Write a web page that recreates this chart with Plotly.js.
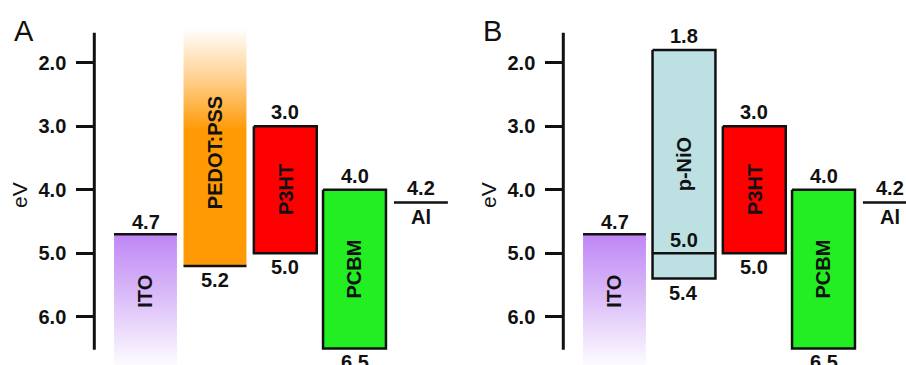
<!DOCTYPE html>
<html>
<head>
<meta charset="utf-8">
<script src="https://cdn.plot.ly/plotly-3.0.1.min.js"></script>
<style>html,body{margin:0;padding:0;background:#fff;}#chart{width:906px;height:365px;}</style>
</head>
<body>
<div id="chart"></div>
<script>
// ---- data (energy levels in eV) ----
const materialsA = ['ITO', 'PEDOT:PSS', 'P3HT', 'PCBM', 'Al'];
const upperA = [4.7, null, 3.0, 4.0, 4.2];   // work function / LUMO
const lowerA = [null, 5.2, 5.0, 6.5, null];  // work function / HOMO
const materialsB = ['ITO', 'p-NiO', 'P3HT', 'PCBM', 'Al'];
const upperB = [4.7, 1.8, 3.0, 4.0, 4.2];
const lowerB = [null, 5.4, 5.0, 6.5, null];
const innerB = [null, 5.0, null, null, null]; // p-NiO intermediate level
const yTicks = [2.0, 3.0, 4.0, 5.0, 6.0];
const yTickLabels = ['2.0', '3.0', '4.0', '5.0', '6.0'];

// ---- layout / style constants ----
const FONT = 'Liberation Sans, Arial, sans-serif';
const INK = '#111111';
const FS = 20;
const YR = [6.761, 1.0126];         // reversed energy axis
const colPos = [0, 0.994, 2.0, 2.99, 3.94];
const halfW = 0.45, alHalfW = 0.386;
const styleA = [
  {kind: 'fadeDown', color: '#bf86f6', label: 'ITO', labelY: 5.6},
  {kind: 'fadeUp', color: '#ff9a05', label: 'PEDOT:PSS', labelY: 3.41},
  {kind: 'box', color: '#ff0000', label: 'P3HT'},
  {kind: 'box', color: '#22ee22', label: 'PCBM'},
  {kind: 'line', label: 'Al'}
];
const styleB = [
  {kind: 'fadeDown', color: '#bf86f6', label: 'ITO', labelY: 5.6},
  {kind: 'box', color: '#bde0e3', label: 'p-NiO'},
  {kind: 'box', color: '#ff0000', label: 'P3HT'},
  {kind: 'box', color: '#22ee22', label: 'PCBM'},
  {kind: 'line', label: 'Al'}
];

const traces = [];
const annotations = [];
const shapes = [];

function valText(v) { return v.toFixed(1); }

function ann(xa, ya, x, y, text, opts) {
  annotations.push(Object.assign({
    xref: xa, yref: ya, x: x, y: y, text: text, showarrow: false,
    font: {family: FONT, size: FS, color: INK, weight: 'bold'}
  }, opts || {}));
}

function hline(xa, ya, x0, x1, y) {
  traces.push({type: 'scatter', mode: 'lines', xaxis: xa, yaxis: ya,
    x: [x0, x1], y: [y, y], line: {color: INK, width: 2.5}, hoverinfo: 'skip'});
}

function panel(xa, ya, materials, upper, lower, inner, styles) {
  materials.forEach((m, i) => {
    const s = styles[i];
    const c = colPos[i];
    const l = c - halfW, r = c + halfW;
    const up = upper[i], lo = lower[i];
    if (s.kind === 'fadeDown') {
      traces.push({type: 'scatter', mode: 'lines', xaxis: xa, yaxis: ya,
        x: [l, r, r, l, l], y: [up, up, YR[0], YR[0], up], fill: 'toself',
        line: {width: 0}, hoverinfo: 'skip',
        fillgradient: {type: 'vertical', start: up, stop: YR[0],
          colorscale: [[0, s.color], [0.45, '#d9b9f8'], [1, '#fdfbff']]}});
      hline(xa, ya, l, r, up);
      ann(xa, ya, c, up, valText(up), {yanchor: 'bottom', yshift: -1});
      ann(xa, ya, c, s.labelY, s.label, {textangle: -90});
    } else if (s.kind === 'fadeUp') {
      const topV = 1.45;
      traces.push({type: 'scatter', mode: 'lines', xaxis: xa, yaxis: ya,
        x: [l, r, r, l, l], y: [lo, lo, topV, topV, lo], fill: 'toself',
        line: {width: 0}, hoverinfo: 'skip',
        fillgradient: {type: 'vertical', start: lo, stop: topV,
          colorscale: [[0, s.color], [0.57, s.color], [0.78, '#ffcf8c'], [1, '#ffffff']]}});
      hline(xa, ya, l, r, lo);
      ann(xa, ya, c, lo, valText(lo), {yanchor: 'top', yshift: -1});
      ann(xa, ya, c, s.labelY, s.label, {textangle: -90});
    } else if (s.kind === 'box') {
      traces.push({type: 'scatter', mode: 'lines', xaxis: xa, yaxis: ya,
        x: [l, r, r, l, l], y: [up, up, lo, lo, up], fill: 'toself',
        fillcolor: s.color, line: {color: INK, width: 2.5}, hoverinfo: 'skip'});
      ann(xa, ya, c, up, valText(up), {yanchor: 'bottom', yshift: 1});
      ann(xa, ya, c, lo, valText(lo), {yanchor: 'top', yshift: -1});
      ann(xa, ya, c, (up + lo) / 2, s.label, {textangle: -90});
      if (inner && inner[i] != null) {
        hline(xa, ya, l, r, inner[i]);
        ann(xa, ya, c, inner[i], valText(inner[i]), {yanchor: 'bottom', yshift: 0});
      }
    } else if (s.kind === 'line') {
      hline(xa, ya, c - alHalfW, c + alHalfW, up);
      ann(xa, ya, c, up, valText(up), {yanchor: 'bottom', yshift: 1});
      ann(xa, ya, c, up, s.label, {yanchor: 'top', yshift: -2});
    }
  });
  // vertical axis line
  shapes.push({type: 'line', xref: xa, yref: ya, x0: -0.7325, x1: -0.7325,
    y0: 1.53, y1: 6.52, line: {color: INK, width: 3}});
}

panel('x', 'y', materialsA, upperA, lowerA, null, styleA);
panel('x2', 'y2', materialsB, upperB, lowerB, innerB, styleB);

// panel letters and axis titles
annotations.push({xref: 'paper', yref: 'paper', x: 12 / 906, y: 1 - 13 / 365, xanchor: 'left', yanchor: 'top',
  text: 'A', showarrow: false, font: {family: FONT, size: 29, color: INK}});
annotations.push({xref: 'paper', yref: 'paper', x: 481 / 906, y: 1 - 13 / 365, xanchor: 'left', yanchor: 'top',
  text: 'B', showarrow: false, font: {family: FONT, size: 29, color: INK}});
annotations.push({xref: 'paper', yref: 'paper', x: 19 / 906, y: 1 - 195 / 365, xanchor: 'center', yanchor: 'middle',
  textangle: -90, text: 'eV', showarrow: false, font: {family: FONT, size: 21, color: INK}});
annotations.push({xref: 'paper', yref: 'paper', x: 488 / 906, y: 1 - 195 / 365, xanchor: 'center', yanchor: 'middle',
  textangle: -90, text: 'eV', showarrow: false, font: {family: FONT, size: 21, color: INK}});

const yaxisBase = {
  range: YR, anchor: 'free', tickmode: 'array', tickvals: yTicks, ticktext: yTickLabels,
  ticks: 'outside', ticklen: 18, tickwidth: 3, tickcolor: INK, showgrid: false, zeroline: false,
  showline: false, ticklabelstandoff: 6, fixedrange: true,
  tickfont: {family: FONT, size: FS, color: INK, weight: 'bold'}
};

const layout = {
  width: 906, height: 365, margin: {l: 0, r: 0, t: 0, b: 0},
  paper_bgcolor: '#ffffff', plot_bgcolor: 'rgba(0,0,0,0)',
  showlegend: false, hovermode: false,
  xaxis: {domain: [0, 469 / 906], range: [-2.0815, 4.628], visible: false, fixedrange: true},
  xaxis2: {domain: [469 / 906, 1], range: [-2.0815, 4.1702], visible: false, fixedrange: true},
  yaxis: Object.assign({}, yaxisBase, {position: 94.3 / 906}),
  yaxis2: Object.assign({}, yaxisBase, {position: 563.3 / 906}),
  shapes: shapes,
  annotations: annotations
};

Plotly.newPlot('chart', traces, layout, {displayModeBar: false, staticPlot: true});
</script>
</body>
</html>
